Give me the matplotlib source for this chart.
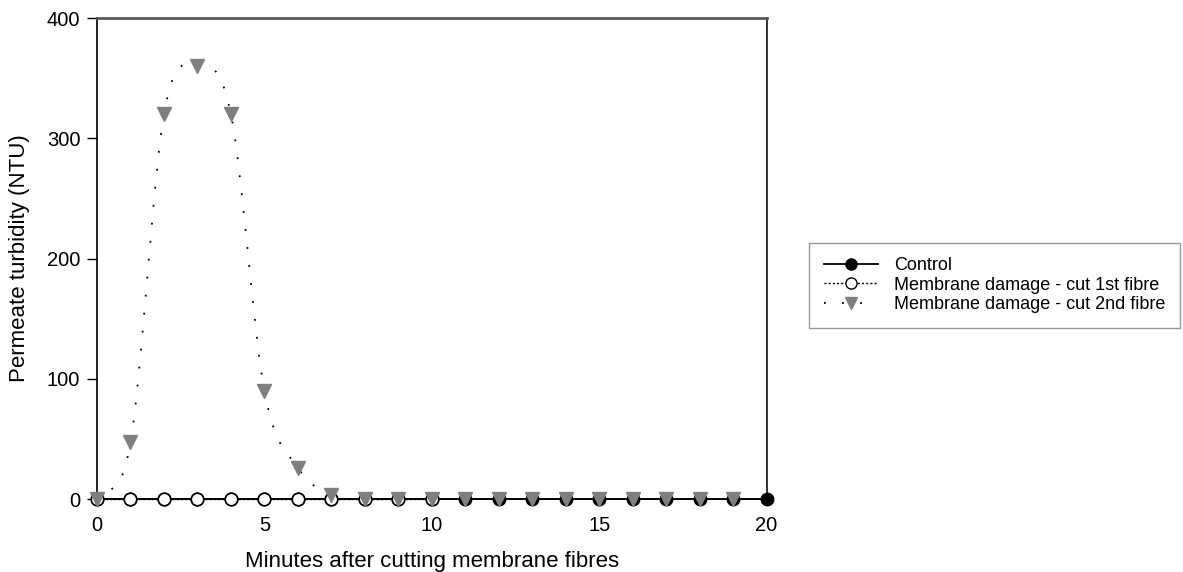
import numpy as np
import matplotlib
matplotlib.use("Agg")
import matplotlib.pyplot as plt
from matplotlib.lines import Line2D

plt.rcParams.update({
    'font.family': ['Liberation Sans', 'DejaVu Sans'],
    'font.size': 14.5,
})

# Permeate turbidity (NTU) per minute after cutting
minutes_control = list(range(0, 21))
control = [0] * 21
minutes_cut1 = list(range(0, 11))
cut1 = [0] * 11
minutes_cut2 = list(range(0, 20))
cut2 = [0, 47, 320, 360, 320, 90, 26, 3, 0, 0, 0, 0, 0, 0, 0, 0, 0, 0, 0, 0]

labels = ["Control",
          "Membrane damage - cut 1st fibre",
          "Membrane damage - cut 2nd fibre"]


def smooth(x, y, n=20):
    """Catmull-Rom curve through the given points (for the dotted trace)."""
    x = np.asarray(x, float)
    y = np.asarray(y, float)
    px = np.concatenate([[2 * x[0] - x[1]], x, [2 * x[-1] - x[-2]]])
    py = np.concatenate([[2 * y[0] - y[1]], y, [2 * y[-1] - y[-2]]])
    xs, ys = [], []
    t = np.linspace(0, 1, n, endpoint=False)
    for i in range(1, len(px) - 2):
        for p, out in ((px, xs), (py, ys)):
            p0, p1, p2, p3 = p[i - 1], p[i], p[i + 1], p[i + 2]
            out.extend(0.5 * (2 * p1 + (-p0 + p2) * t
                              + (2 * p0 - 5 * p1 + 4 * p2 - p3) * t ** 2
                              + (-p0 + 3 * p1 - 3 * p2 + p3) * t ** 3))
    xs.append(x[-1])
    ys.append(y[-1])
    return np.array(xs), np.array(ys)


fig = plt.figure(figsize=(11.83, 5.72), dpi=100)
ax = fig.add_axes([0.082, 0.1276, 0.566, 0.8409])

sx, sy = smooth(minutes_cut2, cut2)
ax.plot(sx, sy, color='black', lw=1.3, ls=(0, (1.0, 9)), clip_on=False, zorder=2)

ax.plot(minutes_control, control, color='black', lw=1.3, marker='o', ms=9,
        mfc='black', mec='black', clip_on=False, zorder=3)
ax.plot(minutes_cut1, cut1, color='black', lw=1.0, ls=(0, (1.5, 1.5)), marker='o',
        ms=9, mfc='white', mec='black', mew=1.2, clip_on=False, zorder=4)
ax.plot(minutes_cut2, cut2, ls='none', marker='v', ms=10.5, mfc='#7f7f7f',
        mec='#7f7f7f', clip_on=False, zorder=5)

ax.set_xlim(0, 20)
ax.set_ylim(0, 400)
ax.set_xticks([0, 5, 10, 15, 20])
ax.set_yticks([0, 100, 200, 300, 400])
ax.tick_params(axis='y', direction='out', length=7, width=1, pad=5)
ax.tick_params(axis='x', length=0, pad=12)

ax.spines['top'].set_color('#5a5a5a')
ax.spines['top'].set_linewidth(2)
ax.spines['right'].set_color('#333333')
ax.spines['right'].set_linewidth(1.4)
ax.spines['left'].set_linewidth(1.2)
ax.spines['bottom'].set_linewidth(1.2)

ax.set_xlabel("Minutes after cutting membrane fibres", fontsize=16, labelpad=12)
ax.set_ylabel("Permeate turbidity (NTU)", fontsize=16, labelpad=12)

handles = [
    Line2D([], [], color='black', lw=1.3, marker='o', ms=8, mfc='black', mec='black'),
    Line2D([], [], color='black', lw=1.0, ls=(0, (1.5, 1.5)), marker='o', ms=8,
           mfc='white', mec='black'),
    Line2D([], [], color='black', lw=1.3, ls=(0, (1.0, 9)), marker='v', ms=9,
           mfc='#7f7f7f', mec='#7f7f7f'),
]
fig.legend(handles, labels, loc='upper left', bbox_to_anchor=(0.684, 0.576),
           frameon=True, fancybox=False, edgecolor='#808080', fontsize=13,
           handlelength=3.0, handletextpad=0.9, labelspacing=0.15,
           borderpad=0.8, borderaxespad=0)

fig.savefig("out.png", dpi=100)
